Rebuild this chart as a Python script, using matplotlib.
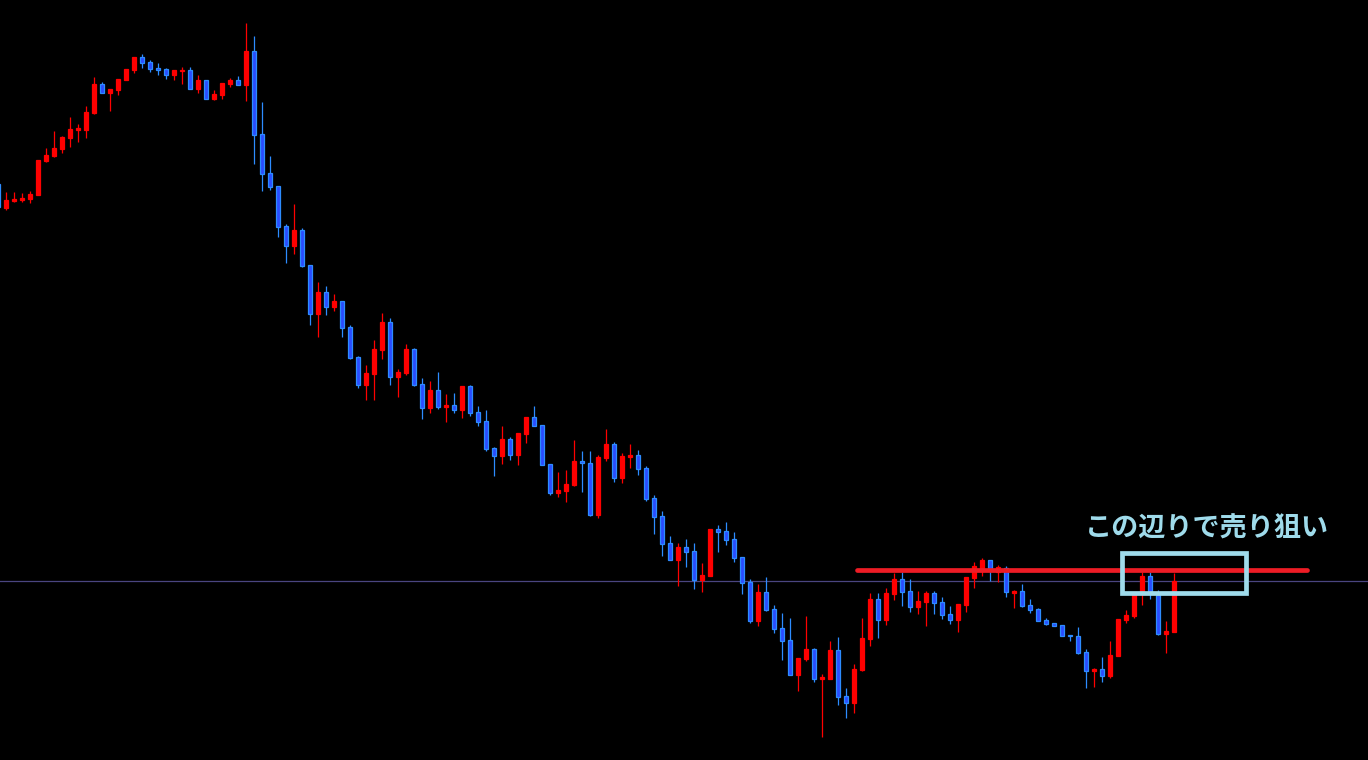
import matplotlib.pyplot as plt
from matplotlib.patches import Rectangle

# candle prices (arbitrary units)
opens = [576, 552.3, 559, 560, 561, 565.3, 599, 604.3, 611, 622.3,
         630.5, 630.3, 647, 676, 667.3, 670.3, 680.3, 690.3, 703, 698,
         692, 691, 685, 689, 690, 671.3, 680, 661, 665.3, 676,
         680, 675, 709, 626, 587, 574, 534, 514.3, 530, 495,
         446.3, 468, 453, 459, 433, 403, 375.3, 386.3, 410.3, 438,
         383.3, 387.3, 411, 376, 352.3, 370, 353.3, 355, 350.3, 374,
         348, 339, 312, 304.3, 321, 305.3, 326.3, 343, 335, 296,
         267.3, 269.3, 275.3, 299, 297, 245.3, 302.3, 316, 282.3, 303.5,
         305, 292, 262, 244, 217, 200.3, 213, 209, 180.3, 184.3,
         231, 229, 221, 203, 178.3, 139.3, 168, 151, 132, 120,
         85.3, 101, 111, 81, 81.3, 110, 64, 57.3, 90.3, 121.3,
         161, 140.3, 166.3, 181, 169, 153.3, 158.3, 167, 158, 146,
         140.3, 155.3, 182, 189, 200, 188, 192, 167.5, 169, 155,
         151, 140, 137, 135, 125.3, 124, 108, 89.3, 91, 84.3,
         104.3, 140.3, 144.3, 166, 184, 165, 126.3, 128.3]
highs = [576, 568, 568, 567, 569, 600, 612, 629, 624, 643,
         636, 654, 683, 678, 671, 681, 691, 703, 706, 700,
         697, 692, 690, 693, 693, 685, 680, 670, 677, 682,
         684, 737, 724, 658, 604, 574, 536, 556, 532, 495,
         478, 474, 466, 459, 435, 404, 395, 420, 447, 442,
         391, 416, 412, 382, 379, 388, 366, 367, 374, 375,
         354, 350, 313.3, 334, 323, 327, 343, 354, 335, 296,
         288, 290, 320, 309, 309, 305, 331, 318, 307, 316,
         310, 294, 265, 249, 224, 217, 221, 217, 197, 231,
         235, 238, 228, 203, 181, 176.3, 183, 155, 147, 142,
         102, 144, 112, 86, 119, 123, 72, 96, 142, 167,
         167, 172, 187, 188, 181, 169, 169, 169, 163, 154.3,
         156, 183, 198, 202, 200, 195, 194, 170, 176, 161,
         152, 142, 137, 135, 125.3, 133, 111, 92, 103, 119,
         141, 150, 167, 188, 188, 170, 139, 187]
lows = [552, 550, 558, 558.3, 557.3, 565.3, 598.3, 603.3, 607.3, 613.3,
        618.3, 622.3, 646.3, 667.3, 649, 665, 680.3, 687.3, 692.3, 688.3,
        685.3, 681.3, 680.3, 676.3, 671.3, 667.3, 661.3, 660, 661, 673,
        675.3, 659, 596, 569.3, 570, 523.3, 497.3, 506.3, 493.3, 435,
        423.3, 445.3, 449, 423.3, 401.3, 372.3, 360.3, 360.3, 401.3, 375.3,
        363.3, 385.3, 374.3, 341.3, 347.3, 351.3, 338.3, 347.3, 342.3, 344.3,
        334.3, 309.3, 284.3, 296.3, 300.3, 295.3, 317.3, 334.3, 295.3, 265.3,
        263.3, 258.3, 274.3, 268.3, 244.3, 242.3, 299.3, 278.3, 277.3, 292.3,
        285.3, 259.3, 226.3, 204.3, 200.3, 174.3, 193.3, 171.3, 168.3, 184.3,
        208.3, 215.3, 198.3, 166.3, 137.3, 134.3, 149.3, 127.3, 100.3, 84.7,
        69.3, 99.3, 78.3, 23.3, 81.3, 55.3, 42.3, 47.3, 89.3, 114.3,
        122.3, 135.3, 160.3, 154.3, 148.3, 146.3, 134.3, 146.3, 141.3, 136.3,
        128.3, 148.3, 172.3, 184, 179, 178, 163.3, 152.3, 153.3, 147.3,
        139.3, 135.3, 134.3, 124.3, 119.3, 106.3, 72.3, 73.3, 78.3, 82.3,
        104.3, 137.3, 142.3, 155.3, 161.3, 125.3, 107.3, 128.3]
closes = [553, 560, 560.7, 561.7, 566, 600, 605, 612, 623, 631,
          632, 648, 676, 667.3, 671, 681, 691, 703, 697.3, 691.3,
          690.5, 685.3, 690, 690.5, 671.3, 680, 661.3, 666, 677, 680,
          675.3, 709, 625.3, 586.3, 573.3, 533.3, 514.3, 530, 494.3, 446.3,
          468, 453.3, 459, 432.3, 402.3, 375.3, 387, 411, 438, 383.3,
          388, 411, 375.3, 352.3, 370, 353.3, 355, 350.3, 374, 347.3,
          338.3, 311.3, 304.3, 321, 305.3, 327, 343, 334.3, 295.3, 267.3,
          270, 276, 299, 296.7, 245.3, 303, 316, 282.3, 304, 305,
          291.3, 261.3, 243.5, 216.3, 200.3, 213, 208.3, 180.3, 185, 231,
          228.3, 220.3, 202.3, 177.3, 139.3, 168.3, 150.3, 131.3, 119.3, 84.7,
          102, 111, 81.3, 83, 110, 63.3, 57.3, 91, 122, 161,
          140.3, 167, 181, 168.3, 153.3, 159, 167, 157.3, 145.3, 140.3,
          156, 183, 194, 200, 191, 193, 167.7, 169, 154.3, 150.3,
          139.3, 136.3, 134.3, 124.3, 124, 107.3, 89.3, 91.3, 84.3, 105,
          141, 145, 167, 184, 168, 126.3, 129, 179]

current_price = 179
resistance = 190.3
resistance_span = (107.4, 163.6)
box_x = (140.56, 155.94)
box_y = (166.7, 206.7)
note = "この辺りで売り狙い"

up_color = "#ff0000"
down_fill = "#2a4cff"
down_edge = "#2d8cff"
box_color = "#9fdbeb"

fig = plt.figure(figsize=(13.68, 7.6), dpi=100, facecolor="black")
ax = fig.add_axes([0, 0, 1, 1], facecolor="black")

width = 0.6
for i in range(len(opens)):
    o, h, l, c = opens[i], highs[i], lows[i], closes[i]
    if c >= o:
        wick, fill, edge = up_color, up_color, up_color
    else:
        wick, fill, edge = down_edge, down_fill, down_edge
    ax.vlines(i, l, h, color=wick, lw=0.9, zorder=2)
    bottom = min(o, c)
    ax.add_patch(Rectangle((i - width / 2, bottom), width, max(abs(c - o), 0.8),
                           facecolor=fill, edgecolor=edge, lw=0.9, zorder=3))

# current price line
ax.axhline(current_price, color="#4a4580", lw=0.9, zorder=1)

# resistance line
ax.plot(resistance_span, [resistance, resistance], color="#ee1c25", lw=3.4,
        solid_capstyle="round", zorder=4)

# target box
ax.add_patch(Rectangle((box_x[0], box_y[0]), box_x[1] - box_x[0], box_y[1] - box_y[0],
                       fill=False, edgecolor=box_color, lw=3.4, zorder=5))

ax.text(151.1, 231, note, color=box_color, fontsize=19.5, fontweight="bold",
        family=["Noto Sans CJK JP", "DejaVu Sans"], ha="center", va="center", zorder=6)

ax.set_xlim(0.25, 171.25)
ax.set_ylim(0, 760)
ax.axis("off")

fig.savefig("out.png", dpi=100, facecolor="black")
